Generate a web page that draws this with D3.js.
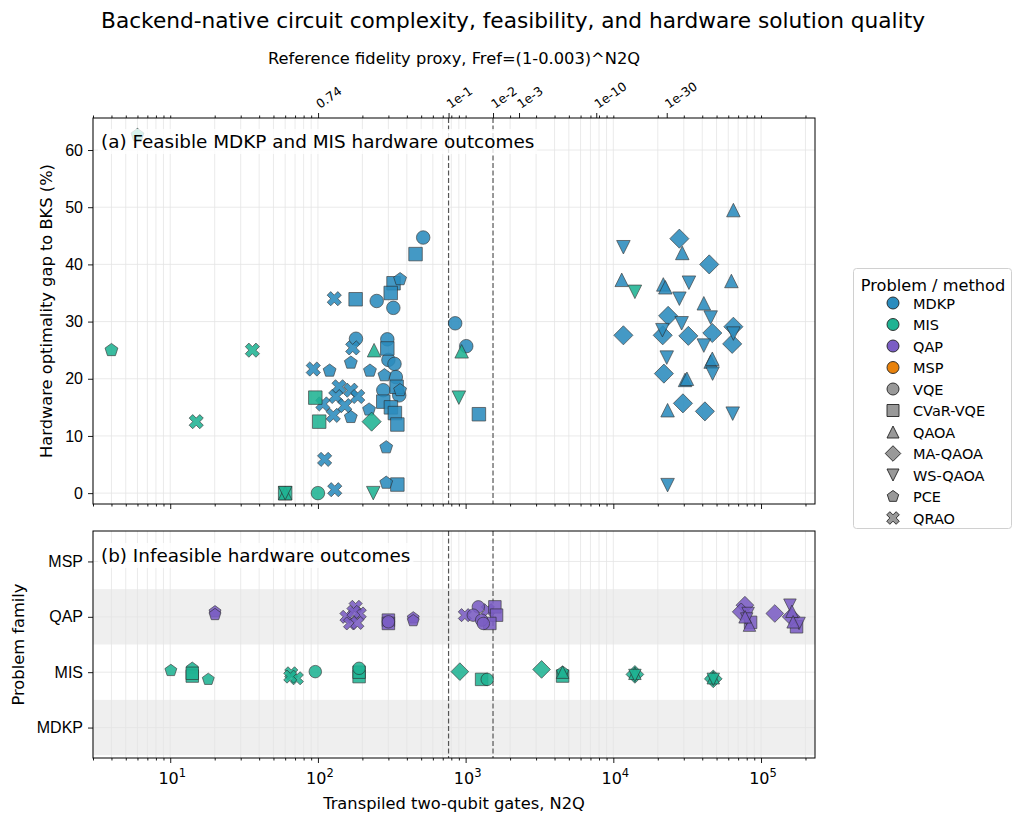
<!DOCTYPE html>
<html lang="en">
<head>
<meta charset="UTF-8"/>
<title>Backend-native circuit complexity</title>
<style>
  * { margin:0; padding:0; box-sizing:border-box }
  body { background:#fff; font-family:'DejaVu Sans',sans-serif; }
  svg text { fill:#000; }
</style>
</head>
<body>
<div id="chart"></div>
<script src="https://d3js.org/d3.v7.min.js"></script>
<script>
// ── categories ─────────────────────────────
const problems = ["MDKP","MIS","QAP","MSP"];
const problemColors = ["#2b8cbe","#1fb393","#7b5ec4","#e8820c"];
const methods = ["VQE","CVaR-VQE","QAOA","MA-QAOA","WS-QAOA","PCE","QRAO"];

// top axis: reference fidelity (1-0.003)^N2Q
const gateError = 0.003;
const fidelityTicks  = [0.74, 1e-1, 1e-2, 1e-3, 1e-10, 1e-30];
const fidelityLabels = ["0.74","1e-1","1e-2","1e-3","1e-10","1e-30"];
const dashedFidelity = [1e-1, 1e-2];
const gapTicks = [0,10,20,30,40,50,60];
const decadeTicks = [10,100,1000,10000,100000];

// ── panel (a): [N2Q, gap %, method] ────────
const mdkpFeasible = [
  [516,44.7,"VQE"],[250,33.6,"VQE"],[324,32.4,"VQE"],[181,27.0,"VQE"],[295,26.9,"VQE"],
  [300,23.3,"VQE"],[330,22.6,"VQE"],[337,20.3,"VQE"],[277,18.0,"VQE"],[355,17.1,"VQE"],
  [850,29.7,"VQE"],[1010,25.7,"VQE"],
  [458,41.8,"CVaR-VQE"],[325,36.7,"CVaR-VQE"],[311,35.0,"CVaR-VQE"],[180,33.9,"CVaR-VQE"],
  [295,25.3,"CVaR-VQE"],[341,18.6,"CVaR-VQE"],[277,16.0,"CVaR-VQE"],[312,15.0,"CVaR-VQE"],
  [332,14.0,"CVaR-VQE"],[345,12.0,"CVaR-VQE"],[345,1.5,"CVaR-VQE"],[1230,13.8,"CVaR-VQE"],
  [360,37.4,"PCE"],[120,21.4,"PCE"],[167,22.8,"PCE"],[225,21.4,"PCE"],[282,20.6,"PCE"],
  [360,18.0,"PCE"],[167,13.3,"PCE"],[222,14.6,"PCE"],[290,8.0,"PCE"],[290,1.8,"PCE"],
  [129,34.0,"QRAO"],[172,25.4,"QRAO"],[93,21.7,"QRAO"],[139,18.6,"QRAO"],[167,18.0,"QRAO"],
  [132,16.9,"QRAO"],[186,16.9,"QRAO"],[108,15.6,"QRAO"],[152,15.3,"QRAO"],[127,13.6,"QRAO"],
  [111,5.9,"QRAO"],[130,0.6,"QRAO"],
  [65000,49.5,"QAOA"],[29300,42.0,"QAOA"],[11400,37.3,"QAOA"],[21800,36.5,"QAOA"],
  [22500,36.0,"QAOA"],[63000,37.1,"QAOA"],[41000,33.2,"QAOA"],[45600,23.0,"QAOA"],
  [46800,23.5,"QAOA"],[30600,19.8,"QAOA"],[31500,20.0,"QAOA"],[23300,14.5,"QAOA"],
  [28000,44.5,"MA-QAOA"],[44600,40.0,"MA-QAOA"],[23500,31.0,"MA-QAOA"],[65000,29.1,"MA-QAOA"],
  [11700,27.6,"MA-QAOA"],[21600,27.6,"MA-QAOA"],[32200,27.5,"MA-QAOA"],[46800,28.0,"MA-QAOA"],
  [63800,26.1,"MA-QAOA"],[22000,20.9,"MA-QAOA"],[29600,15.7,"MA-QAOA"],[41700,14.3,"MA-QAOA"],
  [11700,43.0,"WS-QAOA"],[32500,36.8,"WS-QAOA"],[28000,34.0,"WS-QAOA"],[45600,30.7,"WS-QAOA"],
  [29000,29.7,"WS-QAOA"],[65000,27.9,"WS-QAOA"],[21500,28.5,"WS-QAOA"],[41000,25.8,"WS-QAOA"],
  [23000,23.7,"WS-QAOA"],[47000,20.9,"WS-QAOA"],[64300,13.9,"WS-QAOA"],[23300,1.4,"WS-QAOA"]
];
const misFeasible = [
  [4,25.0,"PCE"],[6,62.6,"PCE"],
  [36,25.0,"QRAO"],[15,12.5,"QRAO"],
  [60,0,"CVaR-VQE"],[102,12.5,"CVaR-VQE"],[96,16.7,"CVaR-VQE"],
  [60,0,"QAOA"],[240,25.0,"QAOA"],[940,24.8,"QAOA"],
  [60,0,"WS-QAOA"],[237,0,"WS-QAOA"],[900,16.7,"WS-QAOA"],[14000,35.2,"WS-QAOA"],
  [100,0,"VQE"],
  [231,12.5,"MA-QAOA"]
];

// ── panel (b): [N2Q, row jitter, method] ───
const misInfeasible = [
  [10.1,0.03,"PCE"],[14.1,0.07,"PCE"],[18.1,-0.13,"PCE"],
  [14.1,-0.07,"CVaR-VQE"],[14.1,-0.02,"CVaR-VQE"],[190,-0.08,"CVaR-VQE"],[190,0.0,"CVaR-VQE"],
  [1283,-0.13,"CVaR-VQE"],[4535,-0.07,"CVaR-VQE"],
  [66,-0.02,"QRAO"],[72,-0.11,"QRAO"],[65,-0.08,"QRAO"],
  [96,0.01,"VQE"],[190,0.07,"VQE"],[1400,-0.13,"VQE"],
  [914,0.01,"MA-QAOA"],[3268,0.05,"MA-QAOA"],[14000,-0.04,"MA-QAOA"],[47500,-0.12,"MA-QAOA"],
  [4535,0.0,"PCE"],[4535,0.0,"QAOA"],[14000,-0.02,"QAOA"],[47500,-0.1,"QAOA"],
  [14000,-0.06,"WS-QAOA"],[47500,-0.13,"WS-QAOA"]
];
const qapInfeasible = [
  [20.1,0.09,"PCE"],[20.1,0.04,"PCE"],[442,-0.02,"PCE"],[442,-0.07,"PCE"],
  [180,0.18,"QRAO"],[192,0.06,"QRAO"],[156,0.0,"QRAO"],[165,-0.12,"QRAO"],[185,-0.11,"QRAO"],
  [174,0.09,"QRAO"],[988,0.03,"QRAO"],[1414,0.12,"QRAO"],
  [300,-0.06,"CVaR-VQE"],[300,-0.12,"CVaR-VQE"],[1578,0.18,"CVaR-VQE"],[1620,0.03,"CVaR-VQE"],
  [1459,-0.12,"CVaR-VQE"],[174000,-0.18,"CVaR-VQE"],[85000,-0.1,"CVaR-VQE"],
  [300,-0.09,"VQE"],[1219,0.18,"VQE"],[1127,0.03,"VQE"],[1283,-0.06,"VQE"],[1318,-0.12,"VQE"],
  [77800,0.21,"MA-QAOA"],[73400,0.09,"MA-QAOA"],[124000,0.06,"MA-QAOA"],[160000,0.0,"MA-QAOA"],
  [81800,0.06,"WS-QAOA"],[80000,-0.04,"WS-QAOA"],[157000,0.21,"WS-QAOA"],[181000,-0.12,"WS-QAOA"],
  [83500,-0.15,"QAOA"],[78000,0.0,"QAOA"],[162000,0.1,"QAOA"],[165000,-0.09,"QAOA"]
];

// ── layout ─────────────────────────────────
const W = 1024, H = 823;
const L = 93, R = 815;
const aTop = 118, aBot = 504, bTop = 531, bBot = 758;

const x  = d3.scaleLog().domain([3, 2.32e5]).range([L, R]);
const ya = d3.scaleLinear().domain([-1.9, 65.6]).range([aBot, aTop]);
const yb = d3.scaleLinear().domain([-0.55, 3.55]).range([bBot, bTop]);
const fidN = f => Math.log(f) / Math.log(1 - gateError);

const minorTicks = [];
for (let e = 0; e <= 5; e++)
  for (let k = 2; k <= 9; k++) {
    const v = k * Math.pow(10, e);
    if (v >= 3 && v <= 2.32e5) minorTicks.push(v);
  }

const svg = d3.select("#chart").append("svg")
  .attr("width", W).attr("height", H)
  .style("font-family", "'DejaVu Sans',sans-serif");

// marker shapes (matplotlib-like), s = marker size in px
function shape(m, s) {
  const h = s / 2;
  if (m === "VQE") {
    const p = d3.path(); p.arc(0, 0, h, 0, 2 * Math.PI); p.closePath(); return p.toString();
  }
  let pts;
  if (m === "CVaR-VQE") pts = [[-h,-h],[h,-h],[h,h],[-h,h]];
  else if (m === "QAOA") pts = [[0,-h],[h,h],[-h,h]];
  else if (m === "WS-QAOA") pts = [[0,h],[h,-h],[-h,-h]];
  else if (m === "MA-QAOA") { const d = s * 0.707; pts = [[0,-d],[d,0],[0,d],[-d,0]]; }
  else if (m === "PCE") pts = d3.range(5).map(k => {
      const a = -Math.PI / 2 + k * 2 * Math.PI / 5; return [h * Math.cos(a), h * Math.sin(a)];
    });
  else pts = [[-0.25,-0.5],[0,-0.25],[0.25,-0.5],[0.5,-0.25],[0.25,0],[0.5,0.25],
              [0.25,0.5],[0,0.25],[-0.25,0.5],[-0.5,0.25],[-0.25,0],[-0.5,-0.25]]
              .map(([a,b]) => [a * s * 1.05, b * s * 1.05]);
  return "M" + pts.map(p => p.join(",")).join("L") + "Z";
}

// ── title & labels ─────────────────────────
svg.append("text").attr("x", 513).attr("y", 28).attr("text-anchor", "middle")
  .style("font-size", "21.7px")
  .text("Backend-native circuit complexity, feasibility, and hardware solution quality");
svg.append("text").attr("x", (L + R) / 2).attr("y", 64).attr("text-anchor", "middle")
  .style("font-size", "16.3px").text("Reference fidelity proxy, Fref=(1-0.003)^N2Q");
svg.append("text").attr("x", (L + R) / 2).attr("y", 809).attr("text-anchor", "middle")
  .style("font-size", "16.3px").text("Transpiled two-qubit gates, N2Q");
svg.append("text").attr("transform", `translate(52,${(aTop + aBot) / 2}) rotate(-90)`)
  .attr("text-anchor", "middle").style("font-size", "16.3px")
  .text("Hardware optimality gap to BKS (%)");
svg.append("text").attr("transform", `translate(24,${(bTop + bBot) / 2}) rotate(-90)`)
  .attr("text-anchor", "middle").style("font-size", "16.3px").text("Problem family");

// ── panel frames, grids ────────────────────
function panel(id, top, bot) {
  const g = svg.append("g");
  svg.append("clipPath").attr("id", id).append("rect")
    .attr("x", L).attr("y", top).attr("width", R - L).attr("height", bot - top);
  return g;
}
const ga = panel("clipA", aTop, aBot);
const gb = panel("clipB", bTop, bBot);

// shaded bands in (b)
gb.append("g").attr("clip-path", "url(#clipB)").selectAll("rect")
  .data([0, 2]).join("rect")
  .attr("x", L).attr("width", R - L)
  .attr("y", d => yb(d + 0.5)).attr("height", d => yb(d - 0.5) - yb(d + 0.5))
  .attr("fill", "#efefef");

[[ga, aTop, aBot], [gb, bTop, bBot]].forEach(([g, top, bot]) => {
  g.append("g").selectAll("line").data(decadeTicks.concat(minorTicks)).join("line")
    .attr("x1", d => x(d)).attr("x2", d => x(d)).attr("y1", top).attr("y2", bot)
    .attr("stroke", "#e4e4e4").attr("stroke-width", 0.8);
});
ga.append("g").selectAll("line").data(gapTicks).join("line")
  .attr("x1", L).attr("x2", R).attr("y1", d => ya(d)).attr("y2", d => ya(d))
  .attr("stroke", "#e4e4e4").attr("stroke-width", 0.8);
gb.append("g").selectAll("line").data(d3.range(4)).join("line")
  .attr("x1", L).attr("x2", R).attr("y1", d => yb(d)).attr("y2", d => yb(d))
  .attr("stroke", "#e4e4e4").attr("stroke-width", 0.8);

// dashed fidelity guides
[[ga, aTop, aBot], [gb, bTop, bBot]].forEach(([g, top, bot]) => {
  g.append("g").selectAll("line").data(dashedFidelity).join("line")
    .attr("x1", d => x(fidN(d))).attr("x2", d => x(fidN(d)))
    .attr("y1", top).attr("y2", bot)
    .attr("stroke", "#555").attr("stroke-width", 1.2).attr("stroke-dasharray", "5,2.5");
});

// ── marks ──────────────────────────────────
function drawMarks(g, rows, color, xy, size) {
  g.append("g").selectAll("path").data(rows).join("path")
    .attr("d", d => shape(d[2], size))
    .attr("transform", d => `translate(${xy(d)})`)
    .attr("fill", color).attr("stroke", "#2a2a2a").attr("stroke-width", 0.7)
    .attr("opacity", 0.88);
}
const marksA = ga.append("g").attr("clip-path", "url(#clipA)");
const marksB = gb.append("g").attr("clip-path", "url(#clipB)");
drawMarks(marksA, mdkpFeasible, problemColors[0], d => [x(d[0]), ya(d[1])], 13.5);
drawMarks(marksA, misFeasible,  problemColors[1], d => [x(d[0]), ya(d[1])], 13.5);
drawMarks(marksB, misInfeasible, problemColors[1], d => [x(d[0]), yb(1 + d[1])], 12.5);
drawMarks(marksB, qapInfeasible, problemColors[2], d => [x(d[0]), yb(2 + d[1])], 12.5);

// panel tags with translucent boxes
function tag(g, y, label) {
  const t = g.append("text").attr("x", 101).attr("y", y).style("font-size", "18.4px").text(label);
  const b = t.node().getBBox();
  g.insert("rect", "text:last-of-type")
    .attr("x", b.x - 3).attr("y", b.y - 2).attr("width", b.width + 6).attr("height", b.height + 4)
    .attr("fill", "#fff").attr("opacity", 0.8);
  t.raise();
}
tag(ga, 148, "(a) Feasible MDKP and MIS hardware outcomes");
tag(gb, 562, "(b) Infeasible hardware outcomes");

// ── axes ───────────────────────────────────
function tickStyle(g) {
  g.select(".domain").remove();
  g.selectAll("line").attr("stroke", "#000").attr("stroke-width", 0.9);
  g.selectAll("text").style("font-size", "16px").attr("fill", "#000");
}
// panel (a) y
svg.append("g").attr("transform", `translate(${L},0)`)
  .call(d3.axisLeft(ya).tickValues(gapTicks).tickSize(5).tickPadding(5)).call(tickStyle);
// panel (b) y
svg.append("g").attr("transform", `translate(${L},0)`)
  .call(d3.axisLeft(yb).tickValues(d3.range(4)).tickSize(5).tickPadding(5)
        .tickFormat(i => problems[i])).call(tickStyle);

// bottom ticks for both panels
[aBot, bBot].forEach(yy => {
  svg.append("g").attr("transform", `translate(0,${yy})`)
    .call(d3.axisBottom(x).tickValues(decadeTicks).tickSize(5).tickFormat("")).call(tickStyle);
  svg.append("g").attr("transform", `translate(0,${yy})`)
    .call(d3.axisBottom(x).tickValues(minorTicks).tickSize(2.5).tickFormat("")).call(tickStyle);
});
// decade labels 10^k
const lab = svg.append("g").selectAll("text").data(decadeTicks).join("text")
  .attr("x", d => x(d) + 2).attr("y", 784).attr("text-anchor", "middle").style("font-size", "16px");
lab.append("tspan").text("10");
lab.append("tspan").attr("dy", -7).style("font-size", "11.5px").text(d => Math.round(Math.log10(d)));

// top fidelity axis
svg.append("g").attr("transform", `translate(0,${aTop})`)
  .call(d3.axisTop(x).tickValues(minorTicks.concat(decadeTicks).filter(v => v !== 100))
        .tickSize(2.5).tickFormat("")).call(tickStyle);
svg.append("g").attr("transform", `translate(0,${aTop})`)
  .call(d3.axisTop(x).tickValues(fidelityTicks.map(fidN)).tickSize(5).tickFormat("")).call(tickStyle);
svg.append("g").selectAll("text").data(fidelityTicks).join("text")
  .attr("transform", (d, i) => `translate(${x(fidN(d)) + 2},${aTop - 9}) rotate(-35)`)
  .style("font-size", "12.5px").text((d, i) => fidelityLabels[i]);

// frames
[[aTop, aBot], [bTop, bBot]].forEach(([t, b]) => {
  svg.append("rect").attr("x", L).attr("y", t).attr("width", R - L).attr("height", b - t)
    .attr("fill", "none").attr("stroke", "#000").attr("stroke-width", 1);
});

// ── legend ─────────────────────────────────
const legendItems = problems.map((p, i) => ({label: p, m: "VQE", fill: problemColors[i]}))
  .concat(methods.map(m => ({label: m, m: m, fill: "#999"})));
const lg = svg.append("g");
lg.append("rect").attr("x", 853.5).attr("y", 268.5).attr("width", 158).attr("height", 260)
  .attr("rx", 3).attr("fill", "#fff").attr("stroke", "#d0d0d0");
lg.append("text").attr("x", 933).attr("y", 291).attr("text-anchor", "middle")
  .style("font-size", "16.2px").text("Problem / method");
const li = lg.selectAll("g.item").data(legendItems).join("g")
  .attr("transform", (d, i) => `translate(893,${303 + i * 21.5})`);
li.append("path").attr("d", d => shape(d.m, d.m === "MA-QAOA" ? 11 : 12))
  .attr("fill", d => d.fill).attr("stroke", "#222").attr("stroke-width", 0.9);
li.append("text").attr("x", 20).attr("y", 5.5).style("font-size", "14.5px").text(d => d.label);
</script>
</body>
</html>
